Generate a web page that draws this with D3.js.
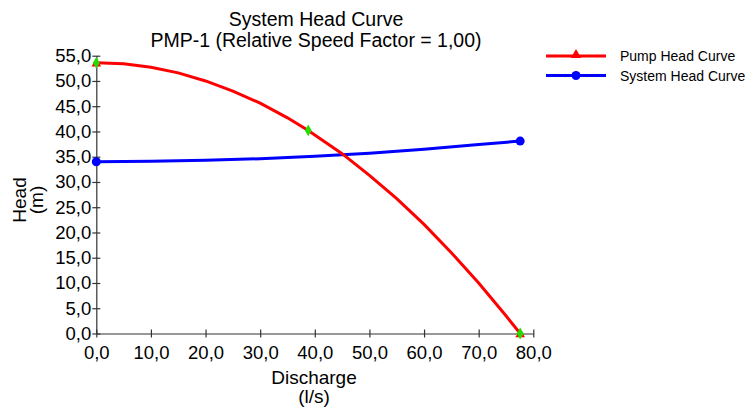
<!DOCTYPE html>
<meta charset="utf-8">
<style>
body{margin:0;background:white}
text{font-family:"Liberation Sans",Arial,sans-serif;fill:#000}
.axis path,.axis line{stroke:#333;stroke-width:1.2px}
</style>
<svg width="749" height="407"></svg>
<script src="https://d3js.org/d3.v7.min.js"></script>
<script>
// pump curve
var pumpFlow = [0, 5, 10, 15, 20, 25, 30, 35, 38.8, 45, 50, 55, 60, 65, 70, 75, 77.6];
var pumpHead = [53.6, 53.4, 52.7, 51.6, 50.0, 48.0, 45.6, 42.7, 40.2, 35.6, 31.3, 26.7, 21.6, 16.0, 10.0, 3.5, 0];
// the three defining points (green marks)
var pumpPtFlow = [0, 38.8, 77.6];
var pumpPtHead = [53.6, 40.2, 0];
// system curve
var sysFlow = [0, 10, 20, 30, 40, 50, 60, 70, 77.6];
var sysHead = [34.0, 34.1, 34.3, 34.6, 35.1, 35.7, 36.5, 37.4, 38.1];

var xTicks = [0, 10, 20, 30, 40, 50, 60, 70, 80];
var yTicks = [0, 5, 10, 15, 20, 25, 30, 35, 40, 45, 50, 55];
var titleLines = ["System Head Curve", "PMP-1 (Relative Speed Factor = 1,00)"];
var seriesNames = ["Pump Head Curve", "System Head Curve"];

var svg = d3.select("svg");
var fmt = function(d) { return d3.format(".1f")(d).replace(".", ","); };

var x = d3.scaleLinear().domain([0, 80]).range([96.3, 533.3]);
var y = d3.scaleLinear().domain([0, 55]).range([333.5, 55.7]);

// axes - ticks cross the line like the original
var xAxis = svg.append("g").attr("class", "axis")
    .attr("transform", "translate(0," + y(0) + ")")
    .call(d3.axisBottom(x).tickValues(xTicks).tickFormat(fmt).tickSize(4).tickSizeOuter(0));
xAxis.selectAll(".tick line").attr("y1", -4);
xAxis.selectAll("text").attr("font-size", "18.5px").attr("dy", "1.0em").attr("fill", "#000");

var yAxis = svg.append("g").attr("class", "axis")
    .attr("transform", "translate(" + x(0) + ",0)")
    .call(d3.axisLeft(y).tickValues(yTicks).tickFormat(fmt).tickSize(4).tickSizeOuter(0));
yAxis.selectAll(".tick line").attr("x1", 4);
yAxis.selectAll("text").attr("font-size", "18.5px").attr("x", -5).attr("fill", "#000");
svg.selectAll(".axis").attr("font-family", null);

// titles
svg.selectAll(".title").data(titleLines).enter().append("text")
    .attr("class", "title")
    .attr("x", 316).attr("y", function(d, i) { return 26 + i * 21; })
    .attr("text-anchor", "middle").attr("font-size", "19.5px")
    .text(function(d) { return d; });

svg.append("text").attr("x", 314).attr("y", 384).attr("text-anchor", "middle")
    .attr("font-size", "19px").text("Discharge");
svg.append("text").attr("x", 314).attr("y", 403).attr("text-anchor", "middle")
    .attr("font-size", "19px").text("(l/s)");
svg.append("text").attr("transform", "translate(26,200) rotate(-90)").attr("text-anchor", "middle")
    .attr("font-size", "19px").text("Head");
svg.append("text").attr("transform", "translate(43,200) rotate(-90)").attr("text-anchor", "middle")
    .attr("font-size", "19px").text("(m)");

var line = d3.line().x(function(d) { return x(d[0]); }).y(function(d) { return y(d[1]); });

var sysData = d3.zip(sysFlow, sysHead);
var pumpData = d3.zip(pumpFlow, pumpHead);

svg.append("path").datum(sysData).attr("d", line)
    .attr("fill", "none").attr("stroke", "#0000ff").attr("stroke-width", 3);
svg.selectAll(".sysdot").data([sysData[0], sysData[sysData.length - 1]]).enter().append("circle")
    .attr("cx", function(d) { return x(d[0]); }).attr("cy", function(d) { return y(d[1]); })
    .attr("r", 4.5).attr("fill", "#0000ff");

svg.append("path").datum(pumpData).attr("d", line)
    .attr("fill", "none").attr("stroke", "#ff0000").attr("stroke-width", 3);

var tri = d3.symbol().type(d3.symbolTriangle).size(40);
svg.selectAll(".ptri").data([pumpData[0], pumpData[pumpData.length - 1]]).enter().append("path")
    .attr("d", tri).attr("fill", "#ff0000")
    .attr("transform", function(d) { return "translate(" + x(d[0]) + "," + (y(d[1]) + 1) + ")"; });

var diamond = d3.symbol().type(d3.symbolDiamond).size(40);
svg.selectAll(".pgreen").data(d3.zip(pumpPtFlow, pumpPtHead)).enter().append("path")
    .attr("d", diamond).attr("fill", "#22dd00")
    .attr("transform", function(d) { return "translate(" + x(d[0]) + "," + y(d[1]) + ")"; });

// legend
var legend = svg.selectAll(".leg").data(seriesNames).enter().append("g")
    .attr("transform", function(d, i) { return "translate(546," + (56 + i * 19.5) + ")"; });
legend.append("line").attr("x1", 0).attr("x2", 60)
    .attr("stroke", function(d, i) { return i ? "#0000ff" : "#ff0000"; }).attr("stroke-width", 3);
legend.each(function(d, i) {
  var g = d3.select(this);
  if (i === 0) g.append("path").attr("d", d3.symbol().type(d3.symbolTriangle).size(45))
      .attr("transform", "translate(30,-1)").attr("fill", "#ff0000");
  else g.append("circle").attr("cx", 30).attr("r", 4.5).attr("fill", "#0000ff");
});
legend.append("text").attr("x", 74).attr("y", 5).attr("font-size", "14px")
    .text(function(d) { return d; });
</script>
